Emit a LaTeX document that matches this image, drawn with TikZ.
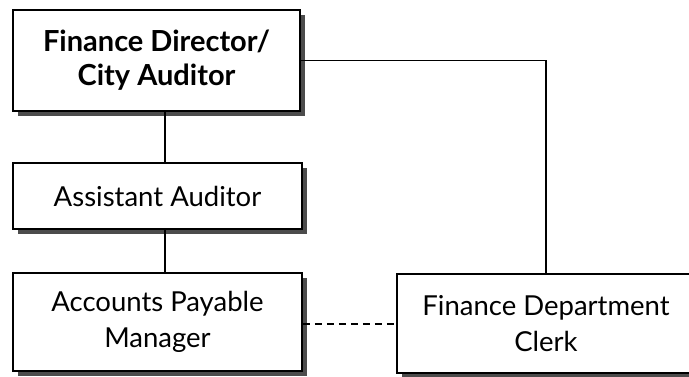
\documentclass[tikz,border=0pt]{standalone}
\usepackage{fontspec}
\setmainfont{Lato}
\usetikzlibrary{shadows}
\begin{document}
\begin{tikzpicture}[x=1pt,y=-1pt,
  orgbox/.style={draw=black, line width=1.6pt, fill=white, rectangle, inner sep=0pt, align=center,
    font=\fontsize{27.5}{36}\selectfont,
    drop shadow={shadow xshift=5pt, shadow yshift=-5pt, fill=black!70, opacity=1}},
  link/.style={draw=black, line width=1.4pt}]
\useasboundingbox (0,0) rectangle (689,377);
\begin{scope}
\clip (0,0) rectangle (689,377);
\node[orgbox, minimum width=287pt, minimum height=101pt, font=\fontsize{29}{34}\selectfont\bfseries] (b1) at (156.5,60.5) {Finance Director/\\City Auditor};
\node[orgbox, minimum width=289pt, minimum height=66pt] (b2) at (157.5,196) {Assistant Auditor};
\node[orgbox, minimum width=289pt, minimum height=98pt] (b3) at (157.5,322) {Accounts Payable\\Manager};
\node[orgbox, minimum width=298pt, minimum height=99pt] (b4) at (546,323.5) {Finance Department\\Clerk};
\coordinate (v) at (165,0);
\draw[link] (b1.south -| v) -- (b2.north -| v);
\draw[link] (b2.south -| v) -- (b3.north -| v);
\draw[link] (b1.east) -- (b1.east -| b4.north) -- (b4.north);
\draw[link, line width=1.2pt, dash pattern=on 7pt off 5pt] ([yshift=-2pt]b3.east) -- ([yshift=-2pt]b3.east -| b4.west);
\end{scope}
\end{tikzpicture}
\end{document}
